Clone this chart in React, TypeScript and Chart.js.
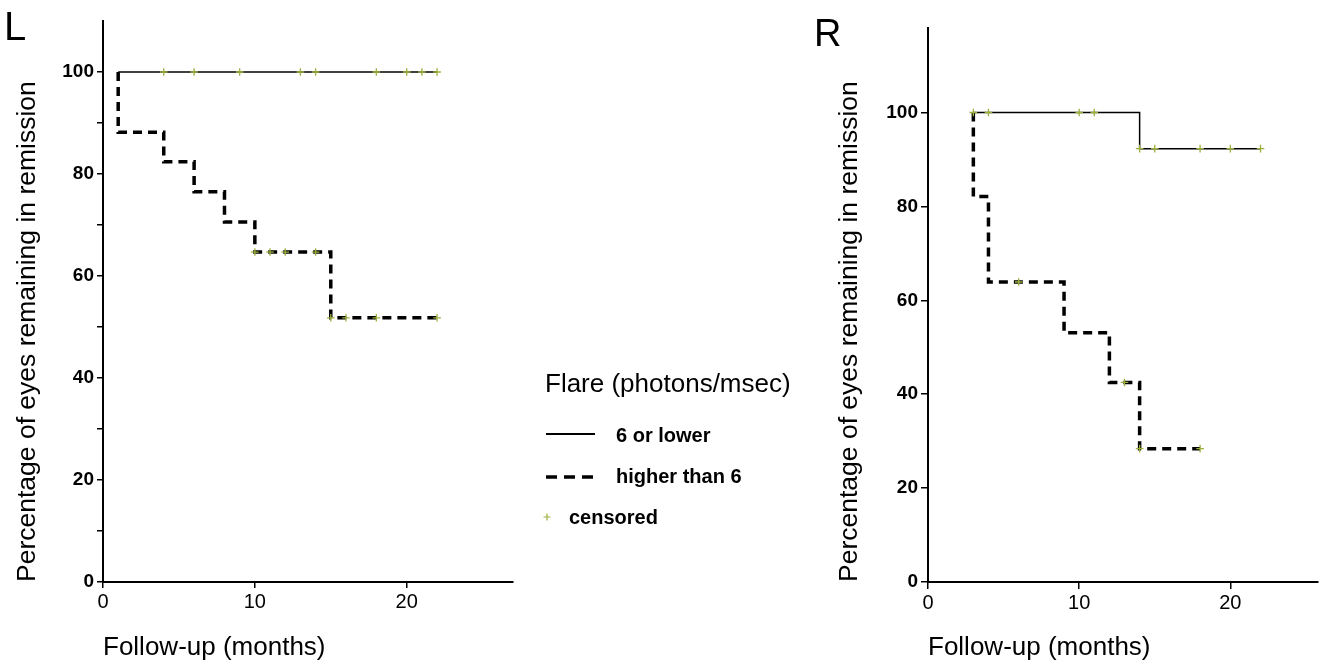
import React, { useEffect, useRef } from "react";
import { Chart, registerables } from "chart.js";

Chart.register(...registerables);

const FONT = "'Liberation Sans', Arial, Helvetica, sans-serif";
Chart.defaults.font.family = FONT;

// ---------- shared axis data ----------
const X_TICKS = [0, 10, 20];
const Y_LABELED = [0, 20, 40, 60, 80, 100];
const L_Y_TICKS = [0, 10, 20, 30, 40, 50, 60, 70, 80, 90, 100];
const R_Y_TICKS = [0, 20, 40, 60, 80, 100];

const SERIES_LABELS = ["6 or lower", "higher than 6", "censored"];
const LEGEND_TITLE = "Flare (photons/msec)";
const X_TITLE = "Follow-up (months)";
const Y_TITLE = "Percentage of eyes remaining in remission";

// ---------- panel L ----------
const L_LOW_T = [1, 22];
const L_LOW_V = [100, 100];
const L_HIGH_T = [1, 1, 4, 6, 8, 10, 15, 22];
const L_HIGH_V = [100, 88.2, 82.4, 76.5, 70.6, 64.7, 51.8, 51.8];
const L_LOW_CENS_T = [4, 6, 9, 13, 14, 18, 20, 21, 22];
const L_LOW_CENS_V = [100, 100, 100, 100, 100, 100, 100, 100, 100];
const L_HIGH_CENS_T = [10, 11, 12, 14, 15, 16, 18, 22];
const L_HIGH_CENS_V = [64.7, 64.7, 64.7, 64.7, 51.8, 51.8, 51.8, 51.8];

// ---------- panel R ----------
const R_LOW_T = [3, 14, 22];
const R_LOW_V = [100, 92.3, 92.3];
const R_HIGH_T = [3, 3, 4, 9, 12, 14, 18];
const R_HIGH_V = [100, 82.1, 63.9, 53.1, 42.5, 28.4, 28.4];
const R_LOW_CENS_T = [3, 4, 10, 11, 14, 15, 18, 20, 22];
const R_LOW_CENS_V = [100, 100, 100, 100, 92.3, 92.3, 92.3, 92.3, 92.3];
const R_HIGH_CENS_T = [6, 13, 14, 18];
const R_HIGH_CENS_V = [63.9, 42.5, 28.4, 28.4];

const LINE_COLOR = "#000000";
const CENSOR_COLOR = "#9db03c";
const LOW_WIDTH = 1.5;
const HIGH_WIDTH = 3.5;
const HIGH_DASH = [9, 6];

function pts(t: number[], v: number[]) {
  return t.map((x, i) => ({ x, y: v[i] }));
}

type PanelSpec = {
  letter: string;
  letterX: number;
  letterY: number;
  letterSize: number;
  lowT: number[];
  lowV: number[];
  highT: number[];
  highV: number[];
  lowCensT: number[];
  lowCensV: number[];
  highCensT: number[];
  highCensV: number[];
  xMax: number;
  yMax: number;
  yTicks: number[];
  padding: { left: number; top: number; right: number; bottom: number };
  yAxisWidth: number;
  xAxisHeight: number;
  yTitlePad: number;
  tickLen: number;
  withLegend: boolean;
};

const letterPlugin = (p: PanelSpec) => ({
  id: "panelLetter",
  afterDraw(chart: any) {
    const ctx = chart.ctx;
    ctx.save();
    ctx.font = `${p.letterSize}px ${FONT}`;
    ctx.fillStyle = "#000";
    ctx.textBaseline = "alphabetic";
    ctx.textAlign = "left";
    ctx.fillText(p.letter, p.letterX, p.letterY);
    ctx.restore();
  },
});

const legendPlugin = {
  id: "flareLegend",
  afterDraw(chart: any) {
    const ctx = chart.ctx;
    ctx.save();
    ctx.fillStyle = "#000";
    ctx.textBaseline = "alphabetic";
    ctx.textAlign = "left";
    ctx.font = `26px ${FONT}`;
    ctx.fillText(LEGEND_TITLE, 545, 392);

    // solid line item
    ctx.strokeStyle = LINE_COLOR;
    ctx.lineWidth = 2;
    ctx.setLineDash([]);
    ctx.beginPath();
    ctx.moveTo(546, 434);
    ctx.lineTo(595, 434);
    ctx.stroke();

    // dashed line item
    ctx.lineWidth = HIGH_WIDTH;
    ctx.setLineDash([11, 7]);
    ctx.beginPath();
    ctx.moveTo(546, 477);
    ctx.lineTo(593, 477);
    ctx.stroke();
    ctx.setLineDash([]);

    // censored mark
    ctx.strokeStyle = CENSOR_COLOR;
    ctx.lineWidth = 1.2;
    ctx.beginPath();
    ctx.moveTo(543.5, 517);
    ctx.lineTo(550.5, 517);
    ctx.moveTo(547, 513.5);
    ctx.lineTo(547, 520.5);
    ctx.stroke();

    ctx.font = `bold 20px ${FONT}`;
    ctx.fillText(SERIES_LABELS[0], 616, 442);
    ctx.fillText(SERIES_LABELS[1], 616, 483);
    ctx.fillText(SERIES_LABELS[2], 569, 524);
    ctx.restore();
  },
};

function buildConfig(p: PanelSpec): any {
  const plugins: any[] = [letterPlugin(p)];
  if (p.withLegend) plugins.push(legendPlugin);
  return {
    type: "line",
    data: {
      datasets: [
        {
          label: SERIES_LABELS[2],
          data: [...pts(p.lowCensT, p.lowCensV), ...pts(p.highCensT, p.highCensV)],
          showLine: false,
          pointStyle: "cross",
          pointRadius: 3.8,
          pointBorderWidth: 1.3,
          pointBorderColor: CENSOR_COLOR,
          pointBackgroundColor: CENSOR_COLOR,
          borderColor: CENSOR_COLOR,
          order: 0,
        },
        {
          label: SERIES_LABELS[0],
          data: pts(p.lowT, p.lowV),
          stepped: "before",
          borderColor: LINE_COLOR,
          borderWidth: LOW_WIDTH,
          pointRadius: 0,
          fill: false,
          order: 2,
        },
        {
          label: SERIES_LABELS[1],
          data: pts(p.highT, p.highV),
          stepped: "before",
          borderColor: LINE_COLOR,
          borderWidth: HIGH_WIDTH,
          borderDash: HIGH_DASH,
          borderCapStyle: "butt",
          pointRadius: 0,
          fill: false,
          order: 1,
        },
      ],
    },
    options: {
      responsive: false,
      maintainAspectRatio: false,
      animation: false,
      events: [],
      layout: { padding: p.padding },
      plugins: {
        legend: { display: false },
        tooltip: { enabled: false },
        title: { display: false },
      },
      scales: {
        x: {
          type: "linear",
          min: 0,
          max: p.xMax,
          afterBuildTicks: (s: any) => {
            s.ticks = X_TICKS.map((v) => ({ value: v }));
          },
          afterFit: (s: any) => {
            s.height = p.xAxisHeight;
          },
          grid: {
            display: true,
            drawOnChartArea: false,
            drawTicks: true,
            tickLength: p.tickLen,
            color: "#000",
            lineWidth: 1.5,
          },
          border: { display: true, color: "#000", width: 2 },
          ticks: {
            color: "#000",
            font: { family: FONT, size: 20 },
            padding: 2,
            maxRotation: 0,
            autoSkip: false,
          },
          title: {
            display: true,
            text: X_TITLE,
            align: "start",
            color: "#000",
            font: { family: FONT, size: 26, lineHeight: 1 },
            padding: { top: 0, bottom: 1 },
          },
        },
        y: {
          type: "linear",
          min: 0,
          max: p.yMax,
          afterBuildTicks: (s: any) => {
            s.ticks = p.yTicks.map((v) => ({ value: v }));
          },
          afterFit: (s: any) => {
            s.width = p.yAxisWidth;
          },
          grid: {
            display: true,
            drawOnChartArea: false,
            drawTicks: true,
            tickLength: p.tickLen,
            color: "#000",
            lineWidth: 1.5,
          },
          border: { display: true, color: "#000", width: 2 },
          ticks: {
            color: "#000",
            font: { family: FONT, size: 19, weight: "bold" },
            padding: 3,
            autoSkip: false,
            callback: (v: number) => (Y_LABELED.includes(v) ? String(v) : ""),
          },
          title: {
            display: true,
            text: Y_TITLE,
            align: "start",
            color: "#000",
            font: { family: FONT, size: 26.5, lineHeight: 1 },
            padding: { top: p.yTitlePad, bottom: 0 },
          },
        },
      },
    },
    plugins,
  };
}

const PANEL_L: PanelSpec = {
  letter: "L",
  letterX: 4,
  letterY: 40,
  letterSize: 40,
  lowT: L_LOW_T,
  lowV: L_LOW_V,
  highT: L_HIGH_T,
  highV: L_HIGH_V,
  lowCensT: L_LOW_CENS_T,
  lowCensV: L_LOW_CENS_V,
  highCensT: L_HIGH_CENS_T,
  highCensV: L_HIGH_CENS_V,
  xMax: 27,
  yMax: 110,
  yTicks: L_Y_TICKS,
  padding: { left: 0, top: 21, right: 297, bottom: 0 },
  yAxisWidth: 103,
  xAxisHeight: 80,
  yTitlePad: 14,
  tickLen: 6,
  withLegend: true,
};

const PANEL_R: PanelSpec = {
  letter: "R",
  letterX: 4,
  letterY: 46,
  letterSize: 38,
  lowT: R_LOW_T,
  lowV: R_LOW_V,
  highT: R_HIGH_T,
  highV: R_HIGH_V,
  lowCensT: R_LOW_CENS_T,
  lowCensV: R_LOW_CENS_V,
  highCensT: R_HIGH_CENS_T,
  highCensV: R_HIGH_CENS_V,
  xMax: 25.8,
  yMax: 118,
  yTicks: R_Y_TICKS,
  padding: { left: 0, top: 28, right: 7, bottom: 0 },
  yAxisWidth: 118,
  xAxisHeight: 80,
  yTitlePad: 26.5,
  tickLen: 7,
  withLegend: false,
};

function Panel({ spec, left, width, height }: { spec: PanelSpec; left: number; width: number; height: number }) {
  const ref = useRef<HTMLCanvasElement | null>(null);
  useEffect(() => {
    if (!ref.current) return;
    const chart = new Chart(ref.current, buildConfig(spec));
    return () => chart.destroy();
  }, [spec]);
  return (
    <canvas
      ref={ref}
      width={width}
      height={height}
      style={{ position: "absolute", left, top: 0, width, height, display: "block" }}
    />
  );
}

export default function App() {
  return (
    <div
      style={{
        position: "absolute",
        left: 0,
        top: 0,
        width: 1325,
        height: 662,
        background: "#ffffff",
        overflow: "hidden",
      }}
    >
      <Panel spec={PANEL_L} left={0} width={810} height={662} />
      <Panel spec={PANEL_R} left={810} width={515} height={662} />
    </div>
  );
}
